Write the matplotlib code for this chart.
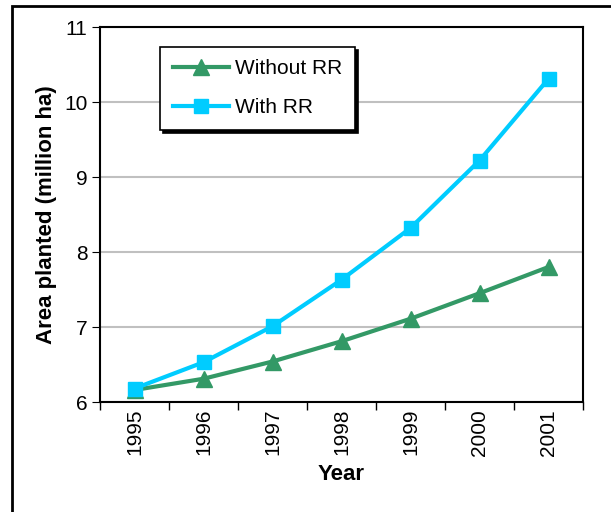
import matplotlib.pyplot as plt
from matplotlib.patches import Rectangle

years = ["1995", "1996", "1997", "1998", "1999", "2000", "2001"]
without_rr = [6.16, 6.31, 6.54, 6.81, 7.11, 7.45, 7.8]
with_rr = [6.18, 6.53, 7.01, 7.63, 8.32, 9.22, 10.31]

plt.rcParams['font.family'] = ['Liberation Sans', 'DejaVu Sans']

fig = plt.figure(figsize=(6.11, 5.12), dpi=100)
# outer frame
fig.patches.append(Rectangle((12/611, -0.01), 0.99, 1 - 6/512 + 0.01, transform=fig.transFigure,
                             fill=False, edgecolor='black', linewidth=2))
ax = fig.add_axes([100/611, 1 - 402/512, 483/611, 375/512])

x = list(range(len(years)))
ax.plot(x, without_rr, color='#339966', linewidth=3, marker='^', markersize=11, label='Without RR')
ax.plot(x, with_rr, color='#00ccff', linewidth=3, marker='s', markersize=10, label='With RR')

ax.set_xlim(-0.5, 6.5)
ax.set_ylim(6, 11)
ax.set_yticks([6, 7, 8, 9, 10, 11])
ax.set_xticks([i - 0.5 for i in range(len(years) + 1)])
ax.set_xticklabels([])
ax.set_xticks(x, minor=True)
ax.set_xticklabels(years, minor=True, rotation=90, fontsize=15)
ax.tick_params(axis='x', which='minor', length=0, pad=5)
ax.tick_params(axis='x', which='major', length=6, width=1)
ax.tick_params(axis='y', labelsize=15, length=6, pad=3)
ax.yaxis.grid(True, color='#c0c0c0', linewidth=1.5)
ax.set_axisbelow(True)
for s in ax.spines.values():
    s.set_linewidth(1.5)

ax.set_xlabel('Year', fontsize=16, fontweight='bold', labelpad=6)
ax.set_ylabel('Area planted (million ha)', fontsize=16, fontweight='bold', labelpad=5)

leg = ax.legend(loc='upper left', bbox_to_anchor=(60/483, 1 - 20/375), borderaxespad=0,
                fontsize=15, fancybox=False,
                framealpha=1, edgecolor='black', handlelength=2.7, borderpad=0.6,
                labelspacing=0.95, handletextpad=0.3,
                shadow={'color': 'black', 'alpha': 1, 'ox': 2.2, 'oy': -2.2})
leg.get_frame().set_linewidth(1.2)

fig.savefig('out.png', dpi=100)
